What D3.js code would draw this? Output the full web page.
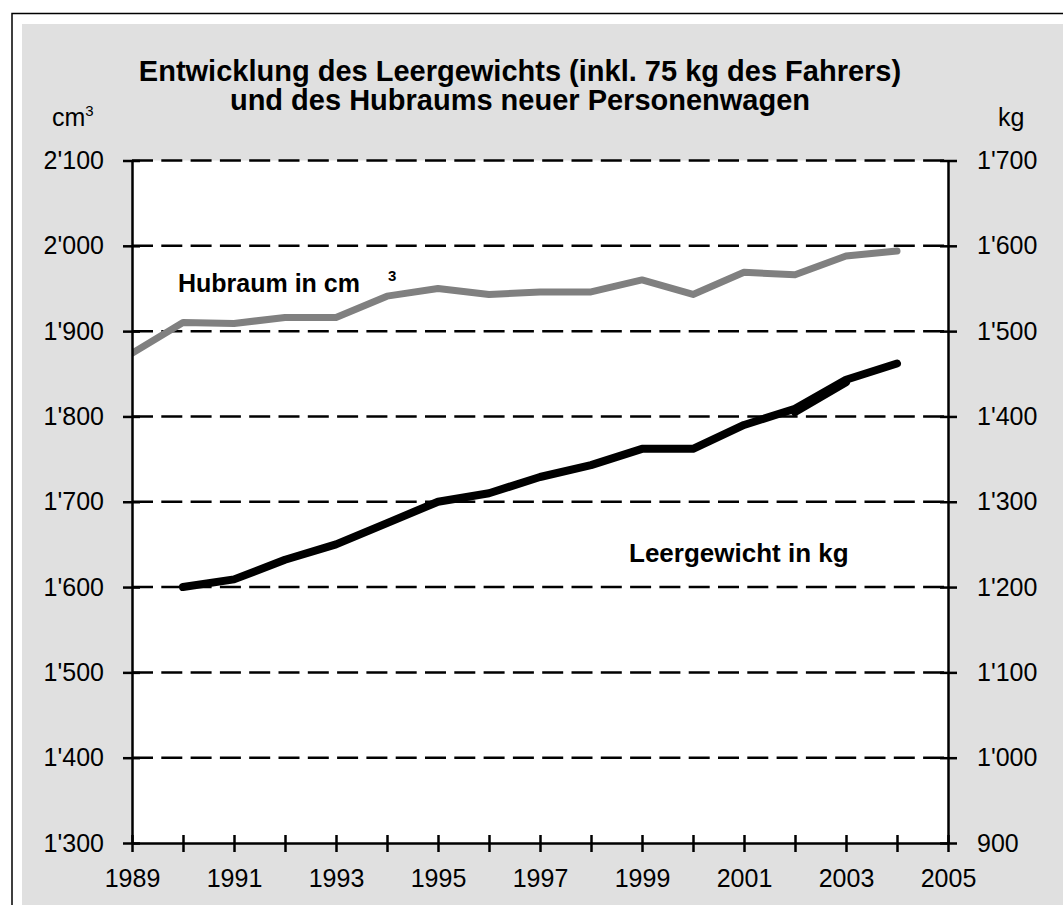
<!DOCTYPE html>
<html>
<head>
<meta charset="utf-8">
<script src="https://cdn.jsdelivr.net/npm/d3@7"></script>
<style>
  body { margin: 0; background: #fff; }
  svg { display: block; font-family: "Liberation Sans", Arial, sans-serif; }
</style>
</head>
<body>
<div id="chart"></div>
<script>
const width = 1063;
const height = 905;

// Jahre und Werte
const years = [1989, 1990, 1991, 1992, 1993, 1994, 1995, 1996, 1997, 1998, 1999, 2000, 2001, 2002, 2003, 2004];
const hubraum = [1874, 1910, 1909, 1916, 1916, 1941, 1950, 1943, 1946, 1946, 1960, 1943, 1969, 1966, 1988, 1994];
const leergewichtYears = [1990, 1991, 1992, 1993, 1994, 1995, 1996, 1997, 1998, 1999, 2000, 2001, 2002, 2003, 2004];
const leergewicht = [1200, 1209, 1232, 1250, 1275, 1300, 1310, 1329, 1343, 1362, 1362, 1390, 1409, 1443, 1462];
// kurzes zweites Stück (Doppellinie 2002-2003)
const leergewicht2Years = [2002, 2003];
const leergewicht2 = [1405, 1440];

const xTicks = d3.range(1989, 2006, 1);
const xLabels = d3.range(1989, 2006, 2);
const leftTicks = d3.range(1300, 2101, 100);
const rightTicks = d3.range(900, 1701, 100);

const plot = { left: 132, right: 948, top: 160.5, bottom: 843 };

const fmt = d3.formatLocale({ decimal: ".", thousands: "'", grouping: [3], currency: ["", ""] }).format(",");

const x = d3.scaleLinear().domain([1989, 2005]).range([plot.left, plot.right]);
const yL = d3.scaleLinear().domain([1300, 2100]).range([plot.bottom, plot.top]);
const yR = d3.scaleLinear().domain([900, 1700]).range([plot.bottom, plot.top]);

const svg = d3.select("#chart").append("svg")
    .attr("width", width)
    .attr("height", height);

// Rahmen + grauer Hintergrund
svg.append("rect").attr("x", 12).attr("y", 13.5).attr("width", 1100).attr("height", 950)
    .attr("fill", "#fff").attr("stroke", "#000").attr("stroke-width", 1.5);
svg.append("rect").attr("x", 22).attr("y", 24).attr("width", 1100).attr("height", 950)
    .attr("fill", "#e0e0e0");

// Plotfläche
svg.append("rect")
    .attr("x", plot.left).attr("y", plot.top)
    .attr("width", plot.right - plot.left).attr("height", plot.bottom - plot.top)
    .attr("fill", "#fff");

// Gitterlinien gestrichelt
svg.append("g").selectAll("line")
    .data(leftTicks.filter(d => d > 1300))
    .join("line")
    .attr("x1", plot.left).attr("x2", plot.right)
    .attr("y1", d => yL(d)).attr("y2", d => yL(d))
    .attr("stroke", "#000")
    .attr("stroke-width", 2.5)
    .attr("stroke-dasharray", "21,8.3");

// Titel
const title = svg.append("text")
    .attr("x", 520).attr("y", 81)
    .attr("text-anchor", "middle")
    .style("font-size", "29px").style("font-weight", "bold");
title.append("tspan").attr("x", 520).text("Entwicklung des Leergewichts (inkl. 75 kg des Fahrers)");
title.append("tspan").attr("x", 520).attr("dy", 29).text("und des Hubraums neuer Personenwagen");

// Einheiten
const cm = svg.append("text").attr("x", 52).attr("y", 126).style("font-size", "25px");
cm.append("tspan").text("cm");
cm.append("tspan").attr("dy", -10).style("font-size", "15px").text("3");
svg.append("text").attr("x", 998).attr("y", 126).style("font-size", "25px").text("kg");

// Achsen
function styleAxis(g) {
    g.select(".domain").attr("stroke", "#000").attr("stroke-width", 2.5);
    g.selectAll(".tick text").style("font-size", "25px").attr("fill", "#000")
        .style("font-family", "'Liberation Sans', Arial, sans-serif");
}

const gL = svg.append("g").attr("transform", `translate(${plot.left},0)`)
    .call(d3.axisLeft(yL).tickValues(leftTicks).tickFormat(fmt).tickSize(0).tickSizeOuter(0).tickPadding(28))
    .call(styleAxis);
gL.selectAll(".tick").append("line").attr("x1", -9).attr("x2", 8).attr("stroke", "#000").attr("stroke-width", 2.5);

const gR = svg.append("g").attr("transform", `translate(${plot.right},0)`)
    .call(d3.axisRight(yR).tickValues(rightTicks).tickFormat(fmt).tickSize(0).tickSizeOuter(0).tickPadding(29))
    .call(styleAxis);
gR.selectAll(".tick").append("line").attr("x1", -8).attr("x2", 9).attr("stroke", "#000").attr("stroke-width", 2.5);

const gX = svg.append("g").attr("transform", `translate(0,${plot.bottom})`)
    .call(d3.axisBottom(x).tickValues(xTicks).tickFormat(d => xLabels.includes(d) ? d : "").tickSize(0).tickSizeOuter(0).tickPadding(26))
    .call(styleAxis);
gX.selectAll(".tick").append("line").attr("y1", -8).attr("y2", 9).attr("stroke", "#000").attr("stroke-width", 2.5);

// Linien
svg.append("clipPath").attr("id", "clip").append("rect")
    .attr("x", plot.left).attr("y", plot.top - 10)
    .attr("width", plot.right - plot.left).attr("height", plot.bottom - plot.top + 10);

const lineL = d3.line().x(d => x(d[0])).y(d => yL(d[1]));
const lineR = d3.line().x(d => x(d[0])).y(d => yR(d[1]));

const lines = svg.append("g").attr("clip-path", "url(#clip)");
lines.append("path")
    .datum(d3.zip(years, hubraum))
    .attr("d", lineL)
    .attr("fill", "none").attr("stroke", "#808080").attr("stroke-width", 7)
    .attr("stroke-linejoin", "round").attr("stroke-linecap", "round");
lines.append("path")
    .datum(d3.zip(leergewichtYears, leergewicht))
    .attr("d", lineR)
    .attr("fill", "none").attr("stroke", "#000").attr("stroke-width", 8)
    .attr("stroke-linejoin", "round").attr("stroke-linecap", "round");
lines.append("path")
    .datum(d3.zip(leergewicht2Years, leergewicht2))
    .attr("d", lineR)
    .attr("fill", "none").attr("stroke", "#000").attr("stroke-width", 8)
    .attr("stroke-linejoin", "round").attr("stroke-linecap", "round");

// Achsen nochmals über die Linien
gL.raise(); gR.raise(); gX.raise();

// Beschriftungen der Linien
const hub = svg.append("text").attr("x", 178).attr("y", 292)
    .style("font-size", "25px").style("font-weight", "bold");
hub.append("tspan").text("Hubraum in cm");
hub.append("tspan").attr("x", 388).attr("y", 281).style("font-size", "15px").text("3");

svg.append("text").attr("x", 629).attr("y", 562)
    .style("font-size", "26px").style("font-weight", "bold")
    .text("Leergewicht in kg");
</script>
</body>
</html>
